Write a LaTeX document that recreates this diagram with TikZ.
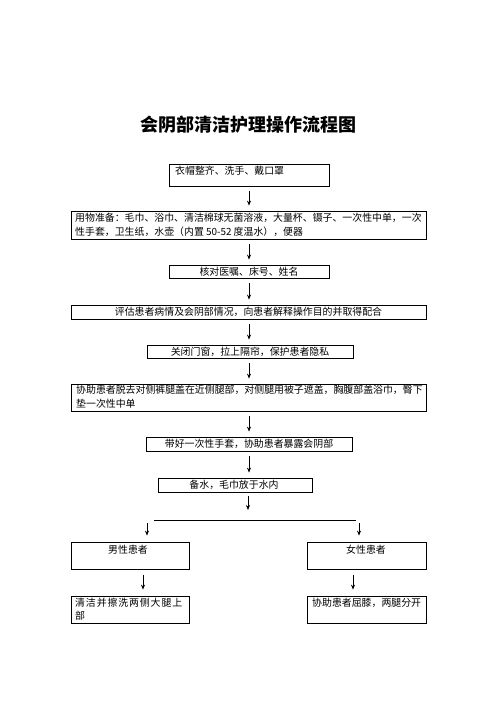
\documentclass[tikz,border=0pt]{standalone}
\usepackage{fontspec}
\setmainfont{Noto Sans CJK SC}
\usetikzlibrary{arrows.meta}
\begin{document}
\begin{tikzpicture}[x=1pt,y=-1pt,
  frame/.style={draw=black,line width=0.8pt,inner sep=0pt,rectangle},
  txt/.style={inner sep=0pt,font=\fontsize{9.9}{13.5}\selectfont},
  mtxt/.style={txt,align=left,anchor=north west},
  arr/.style={-{Stealth[length=5pt,width=4pt]},line width=0.7pt,shorten <=5pt,shorten >=5pt}]
\useasboundingbox (0,0) rectangle (496,702);
% title
\node[inner sep=0pt,font=\fontsize{18}{20}\selectfont\bfseries] (title) at (248,125) {会阴部清洁护理操作流程图};
% boxes
\node[frame,minimum width=160pt,minimum height=22pt] (b1) at (249,175) {};
\node[txt,anchor=west] (t1) at (175,171) {衣帽整齐、洗手、戴口罩};
\node[frame,minimum width=355pt,minimum height=28pt] (b2) at (248.5,225) {};
\node[mtxt] (t2) at (75,213) {用物准备：毛巾、浴巾、清洁棉球无菌溶液，大量杯、镊子、一次性中单，一次\\性手套，卫生纸，水壶（内置 50-52 度温水），便器};
\node[frame,minimum width=160pt,minimum height=13pt] (b3) at (249,271.5) {};
\node[txt] (t3) at (249,271.5) {核对医嘱、床号、姓名};
\node[frame,minimum width=355pt,minimum height=14pt] (b4) at (248.5,312) {};
\node[txt] (t4) at (248.5,312) {评估患者病情及会阴部情况，向患者解释操作目的并取得配合};
\node[frame,minimum width=206pt,minimum height=13pt] (b5) at (250,351.5) {};
\node[txt] (t5) at (250,351.5) {关闭门窗，拉上隔帘，保护患者隐私};
\node[frame,minimum width=355pt,minimum height=27pt] (b6) at (248.5,397.5) {};
\node[mtxt] (t6) at (76,385) {协助患者脱去对侧裤腿盖在近侧腿部，对侧腿用被子遮盖，胸腹部盖浴巾，臀下\\垫一次性中单};
\node[frame,minimum width=206pt,minimum height=14pt] (b7) at (249,444) {};
\node[txt] (t7) at (249,444) {带好一次性手套，协助患者暴露会阴部};
\node[frame,minimum width=154pt,minimum height=14pt] (b8) at (235,485) {};
\node[txt] (t8) at (234,484.5) {备水，毛巾放于水内};
\node[frame,minimum width=118pt,minimum height=27pt] (m1) at (130,555.5) {};
\node[txt] (tm1) at (128,550) {男性患者};
\node[frame,minimum width=119pt,minimum height=27pt] (f1) at (366.5,555.5) {};
\node[txt] (tf1) at (366,550) {女性患者};
\node[frame,minimum width=118pt,minimum height=27pt] (m2) at (130,609.5) {};
\node[mtxt,font=\fontsize{9.9}{13}\selectfont\addfontfeature{LetterSpace=9}] (tm2) at (75,598) {清洁并擦洗两侧大腿上\\部};
\node[frame,minimum width=119pt,minimum height=27pt] (f2) at (366.5,609.5) {};
\node[txt,anchor=west] (tf2) at (312,603) {协助患者屈膝，两腿分开};
% arrows
\draw[arr] (b1.south) -- (b1.south |- b2.north);
\draw[arr] (b3.north |- b2.south) -- (b3.north);
\draw[arr] (b3.south) -- (b3.south |- b4.north);
\draw[arr] (b3.south |- b4.south) -- (b3.south |- b5.north);
\draw[arr] (b3.south |- b5.south) -- (b3.south |- b6.north);
\draw[arr] (b3.south |- b6.south) -- (b3.south |- b7.north);
\draw[arr] (b3.south |- b7.south) -- (b3.south |- b8.north);
\coordinate (split) at (248,520);
\coordinate (brL) at (154,520);
\coordinate (brR) at (356,520);
\draw[line width=0.8pt] (brL) -- (brR);
\draw[arr,shorten <=4pt,shorten >=10pt] (b8.south -| split) -- (split);
\coordinate (aL) at (147,523);
\coordinate (aR) at (359,523);
\draw[arr,shorten <=0pt,shorten >=6pt] (aL) -- (aL |- m1.north);
\draw[arr,shorten <=0pt,shorten >=6pt] (aR) -- (aR |- f1.north);
\coordinate (mx) at (143,0);
\coordinate (fx) at (353,0);
\draw[arr,shorten <=6pt,shorten >=6pt] (m1.south -| mx) -- (m2.north -| mx);
\draw[arr,shorten <=6pt,shorten >=6pt] (f1.south -| fx) -- (f2.north -| fx);
\end{tikzpicture}
\end{document}
